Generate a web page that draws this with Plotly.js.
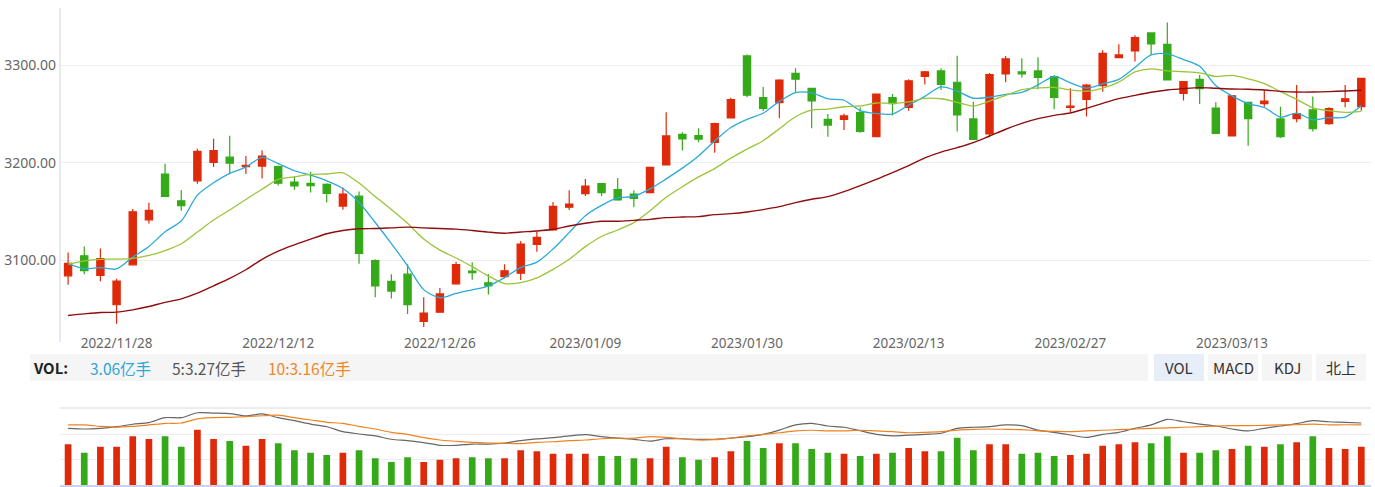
<!DOCTYPE html>
<html>
<head>
<meta charset="utf-8">
<script src="https://cdn.plot.ly/plotly-3.0.1.min.js"></script>
<style>html,body{margin:0;padding:0;background:#fff;}#chart{width:1375px;height:487px;}</style>
</head>
<body>
<div id="chart"></div>
<script>
const dates = ['2022/11/23','2022/11/24','2022/11/25','2022/11/28','2022/11/29','2022/11/30','2022/12/01','2022/12/02','2022/12/05','2022/12/06','2022/12/07','2022/12/08','2022/12/09','2022/12/12','2022/12/13','2022/12/14','2022/12/15','2022/12/16','2022/12/19','2022/12/20','2022/12/21','2022/12/22','2022/12/23','2022/12/26','2022/12/27','2022/12/28','2022/12/29','2022/12/30','2023/01/03','2023/01/04','2023/01/05','2023/01/06','2023/01/09','2023/01/10','2023/01/11','2023/01/12','2023/01/13','2023/01/16','2023/01/17','2023/01/18','2023/01/19','2023/01/20','2023/01/30','2023/01/31','2023/02/01','2023/02/02','2023/02/03','2023/02/06','2023/02/07','2023/02/08','2023/02/09','2023/02/10','2023/02/13','2023/02/14','2023/02/15','2023/02/16','2023/02/17','2023/02/20','2023/02/21','2023/02/22','2023/02/23','2023/02/24','2023/02/27','2023/02/28','2023/03/01','2023/03/02','2023/03/03','2023/03/06','2023/03/07','2023/03/08','2023/03/09','2023/03/10','2023/03/13','2023/03/14','2023/03/15','2023/03/16','2023/03/17','2023/03/20','2023/03/21','2023/03/22','2023/03/23'];

const tickDates = ['2022/11/28','2022/12/12','2022/12/26','2023/01/09','2023/01/30','2023/02/13','2023/02/27','2023/03/13'];
const priceTicks = [3100, 3200, 3300];

const open = [3084.1,3104.6,3084.4,3054.4,3095.4,3141.5,3188.4,3161,3181.5,3200.3,3205.8,3196.1,3196.6,3196.2,3180.2,3178.8,3177.8,3155.6,3165.8,3099.8,3078.3,3085.8,3037.3,3046.8,3075.9,3088.9,3077,3083.3,3086.7,3116.4,3131.1,3154.4,3168.4,3178.6,3172.5,3168,3169.4,3197.8,3229.2,3227.9,3221,3246,3309.6,3266.8,3261.7,3291.8,3276.4,3244.6,3244.6,3251.5,3226.8,3266.8,3256.9,3288.7,3294.2,3282.6,3245,3229.6,3291.1,3293.2,3294.2,3288.4,3256.9,3265.1,3279.1,3307.9,3314.7,3333.2,3321.5,3271.3,3285.6,3256.2,3227.5,3262,3260.7,3245,3245.3,3254.2,3240.2,3263.1,3257.6];
const high = [3108,3114.2,3112,3081,3152.5,3159,3199,3172,3214.4,3224.6,3227.7,3207,3213,3197.3,3186,3190.8,3179,3174.7,3170.6,3101.2,3085.8,3096,3062.2,3071.5,3098.5,3098.1,3086,3096,3119.8,3129.4,3159.8,3171.8,3183.4,3178.6,3184.4,3171.8,3195.5,3251.8,3231.3,3235.4,3241,3266.8,3311,3277.8,3285.6,3297,3276.4,3250,3250.4,3256.9,3270.6,3270.6,3285.6,3294.2,3297,3309.9,3262.7,3292,3309.6,3307.2,3308.2,3290,3276.4,3281.2,3315.4,3321.5,3330.8,3333.2,3343.8,3284,3290,3262,3269.2,3262,3274.7,3257.6,3279.8,3267.9,3257,3279.8,3287];
const low = [3075,3085.8,3078.6,3035,3095,3137.8,3164.8,3150.8,3178.5,3195.6,3189.4,3188.4,3184,3176.8,3172.3,3169.6,3159.3,3151.8,3096.4,3062.2,3060.9,3044.8,3031.5,3046.8,3074.9,3080,3065,3081.5,3079.8,3108.9,3130.4,3151.6,3166,3166,3161.2,3154.4,3168.7,3197.8,3212.5,3221,3210.4,3246,3267.2,3253.2,3245.6,3273,3235.4,3226.8,3233.7,3230.9,3226.2,3248.4,3253.5,3280.2,3274.7,3232,3223.4,3226.2,3282.6,3287.4,3275.4,3254.9,3251.8,3247.4,3273,3307.9,3303.8,3310.6,3285,3263.8,3260.3,3229.6,3227.5,3217.6,3257.6,3225.5,3241.5,3232,3239,3256.9,3253.5];
const close = [3096.91,3089.31,3101.69,3078.55,3149.75,3151.34,3165.47,3156.14,3211.81,3212.53,3199.62,3197.35,3206.95,3179.04,3176.33,3176.53,3168.65,3167.86,3107.12,3073.77,3068.41,3054.43,3045.87,3065.56,3095.57,3087.40,3073.70,3089.26,3116.51,3123.52,3155.22,3157.64,3176.08,3169.51,3161.84,3163.45,3195.31,3227.59,3224.41,3224.24,3240.28,3264.81,3269.32,3255.67,3284.92,3285.67,3263.41,3238.70,3248.09,3232.11,3270.38,3260.67,3284.16,3293.28,3280.49,3249.03,3224.02,3290.34,3306.52,3291.15,3287.48,3267.16,3258.03,3279.61,3312.35,3310.65,3328.39,3322.03,3285.10,3283.25,3276.09,3230.08,3268.70,3245.31,3263.31,3226.89,3250.55,3234.91,3255.65,3265.65,3286.65];

const ma5 = [3096.7,3091.5,3092.4,3091.1,3103.24,3114.13,3129.36,3140.25,3166.90,3179.46,3189.11,3195.49,3205.65,3199.10,3191.86,3187.24,3181.50,3173.68,3159.30,3138.79,3117.16,3094.32,3069.92,3061.61,3065.97,3069.77,3073.62,3082.30,3092.49,3098.08,3111.64,3128.43,3145.79,3156.39,3164.06,3165.70,3173.24,3183.54,3194.52,3207.00,3222.37,3236.27,3244.61,3250.86,3263.00,3272.08,3271.80,3265.67,3264.16,3253.60,3250.54,3249.99,3259.08,3268.12,3277.80,3273.53,3266.20,3267.43,3270.08,3272.21,3279.90,3288.53,3282.07,3276.69,3280.93,3285.56,3297.81,3310.61,3311.70,3305.88,3298.97,3279.31,3268.64,3260.69,3256.70,3246.86,3250.95,3244.19,3246.26,3246.73,3258.68];
const ma10 = [3096,3099.5,3101,3101.2,3102,3105,3110,3117,3129,3141.35,3151.62,3162.43,3172.95,3183.00,3185.66,3188.18,3188.50,3189.67,3179.20,3165.32,3152.20,3137.91,3121.80,3110.45,3102.38,3093.46,3083.97,3076.11,3077.05,3082.02,3090.70,3101.03,3114.05,3124.44,3131.07,3138.67,3150.83,3164.67,3175.46,3185.53,3194.04,3204.75,3214.08,3222.69,3235.00,3247.22,3254.03,3255.14,3257.51,3258.30,3261.31,3260.89,3262.38,3266.14,3265.70,3262.03,3258.09,3263.26,3269.10,3275.00,3276.71,3277.36,3274.75,3273.38,3276.57,3282.73,3293.17,3296.34,3294.20,3293.41,3292.27,3288.56,3289.63,3286.20,3281.29,3272.92,3265.13,3256.42,3253.47,3251.71,3252.77];
const ma30 = [3043.4,3045.1,3046.5,3046.8,3049.2,3052.6,3056.8,3060.5,3066.3,3073.8,3081.5,3090.3,3101,3109.5,3115.9,3121.7,3127.2,3130.6,3132.3,3132.6,3133.3,3134,3133.3,3132.6,3132,3130.6,3128.9,3127.8,3129,3130,3131.8,3135.2,3138,3140,3140,3141,3142,3143.8,3144.4,3144.8,3146.8,3147.9,3149.6,3152,3155,3159.1,3162.6,3165.3,3170.4,3176.6,3183,3189.9,3197.1,3205,3211,3215.6,3220.7,3227.5,3234.4,3240.5,3245.3,3248.7,3251.1,3255.9,3261,3265.8,3269.2,3272.3,3274.7,3276.1,3277.1,3276.4,3275.7,3275.4,3274.7,3273.3,3272.6,3272.6,3273,3273.7,3274.4];

// volume in 亿手
const volume = [3.26,2.58,3.06,3.06,3.90,3.68,3.90,3.06,4.42,3.68,3.52,3.14,3.68,3.34,2.78,2.58,2.40,2.58,2.78,2.14,1.84,2.22,1.84,2.02,2.14,2.22,2.14,2.14,2.78,2.70,2.50,2.50,2.50,2.32,2.32,2.14,2.14,3.06,2.22,2.02,2.22,2.70,3.52,2.96,3.34,3.34,2.88,2.58,2.50,2.32,2.50,2.58,2.96,2.70,2.70,3.78,2.78,3.26,3.26,2.50,2.58,2.32,2.40,2.50,3.14,3.26,3.42,3.34,3.90,2.58,2.58,2.78,2.88,3.14,3.06,3.26,3.42,3.90,2.96,2.88,3.06];
const volMa5 = [2.97,2.93,2.97,3.06,3.20,3.29,3.57,3.57,3.85,3.83,3.80,3.67,3.78,3.57,3.40,3.21,3.06,2.78,2.65,2.54,2.35,2.27,2.16,2.01,2.01,2.08,2.08,2.14,2.27,2.37,2.44,2.54,2.61,2.50,2.41,2.35,2.25,2.38,2.38,2.35,2.35,2.41,2.50,2.63,2.87,3.16,3.25,3.10,3.03,2.83,2.63,2.54,2.58,2.63,2.69,2.97,3.03,3.06,3.16,3.12,2.87,2.74,2.59,2.46,2.63,2.74,2.97,3.16,3.48,3.34,3.21,3.10,2.93,2.82,2.97,3.10,3.23,3.40,3.34,3.31,3.27];
const volMa10 = [3.16,3.16,3.08,3.03,3.08,3.16,3.25,3.27,3.50,3.57,3.59,3.63,3.68,3.71,3.57,3.44,3.31,3.25,3.08,2.93,2.74,2.63,2.44,2.31,2.24,2.18,2.14,2.12,2.10,2.18,2.21,2.27,2.31,2.38,2.41,2.41,2.50,2.46,2.37,2.31,2.33,2.42,2.54,2.63,2.72,2.82,2.86,2.83,2.83,2.86,2.82,2.78,2.72,2.74,2.78,2.87,2.91,2.93,2.91,2.89,2.83,2.80,2.78,2.82,2.86,2.89,2.93,2.97,2.99,3.03,3.06,3.10,3.12,3.12,3.14,3.16,3.17,3.21,3.16,3.17,3.16];

const RED = '#df2a0a', GREEN = '#35aa18';
const idx = dates.map((d, i) => i);
const tickvals = tickDates.map(d => dates.indexOf(d));
const last = dates.length - 1;

const W = 1375, H = 487;
const px = x => x / W;
const py = y => 1 - y / H;

const traces = [
  {
    type: 'candlestick', x: idx, open: open, high: high, low: low, close: close,
    xaxis: 'x', yaxis: 'y',
    increasing: {line: {color: RED, width: 1.2}, fillcolor: RED},
    decreasing: {line: {color: GREEN, width: 1.2}, fillcolor: GREEN},
    whiskerwidth: 0, hoverinfo: 'skip'
  },
  {type: 'scatter', mode: 'lines', x: idx, y: ma5, xaxis: 'x', yaxis: 'y',
   line: {color: '#2aaad8', width: 1.3, shape: 'spline', smoothing: 0.8}, hoverinfo: 'skip'},
  {type: 'scatter', mode: 'lines', x: idx, y: ma10, xaxis: 'x', yaxis: 'y',
   line: {color: '#9ac43a', width: 1.3, shape: 'spline', smoothing: 0.8}, hoverinfo: 'skip'},
  {type: 'scatter', mode: 'lines', x: idx, y: ma30, xaxis: 'x', yaxis: 'y',
   line: {color: '#8e0c0c', width: 1.4, shape: 'spline', smoothing: 0.8}, hoverinfo: 'skip'},
  {type: 'bar', x: idx, y: volume, xaxis: 'x2', yaxis: 'y2',
   marker: {color: idx.map(i => close[i] >= open[i] ? RED : GREEN), line: {width: 0}}, hoverinfo: 'skip'},
  {type: 'scatter', mode: 'lines', x: idx, y: volMa5, xaxis: 'x2', yaxis: 'y3',
   line: {color: '#666666', width: 1.2, shape: 'spline', smoothing: 0.8}, hoverinfo: 'skip'},
  {type: 'scatter', mode: 'lines', x: idx, y: volMa10, xaxis: 'x2', yaxis: 'y3',
   line: {color: '#f0821e', width: 1.2, shape: 'spline', smoothing: 0.8}, hoverinfo: 'skip'}
];

const CJK = '"Noto Sans CJK SC", "Noto Sans", sans-serif';
const annotations = [
  {text: '<b>VOL:</b>', x: px(31), y: py(367.5), xanchor: 'left', yanchor: 'middle', font: {family: CJK, size: 15, color: '#222'}},
  {text: volume[last].toFixed(2) + '亿手', x: px(88), y: py(367.5), xanchor: 'left', yanchor: 'middle', font: {family: CJK, size: 15.5, color: '#2ba6d9'}},
  {text: '5:' + volMa5[last].toFixed(2) + '亿手', x: px(170), y: py(367.5), xanchor: 'left', yanchor: 'middle', font: {family: CJK, size: 15.5, color: '#555555'}},
  {text: '10:' + volMa10[last].toFixed(2) + '亿手', x: px(266), y: py(367.5), xanchor: 'left', yanchor: 'middle', font: {family: CJK, size: 15.5, color: '#f0862a'}}
];
const buttons = ['VOL', 'MACD', 'KDJ', '北上'];
const shapes = [
  {type: 'line', xref: 'paper', yref: 'paper', x0: px(60), x1: px(60), y0: py(8), y1: py(342), line: {color: '#ccd5e8', width: 1}},
  {type: 'rect', xref: 'paper', yref: 'paper', x0: px(30), x1: px(1148), y0: py(354), y1: py(381), fillcolor: '#f5f5f5', line: {width: 0}, layer: 'below'},
  {type: 'line', xref: 'paper', yref: 'paper', x0: px(60), x1: px(1371), y0: py(408), y1: py(408), line: {color: '#e4e6ea', width: 1.5}}
];
buttons.forEach((b, k) => {
  const x0 = 1154 + k * 54;
  shapes.push({type: 'rect', xref: 'paper', yref: 'paper', x0: px(x0), x1: px(x0 + 50), y0: py(354), y1: py(381),
    fillcolor: k === 0 ? '#e7eef8' : '#f5f5f5', line: {width: 0}, layer: 'below'});
  annotations.push({text: b, x: px(x0 + 25), y: py(367.5), xanchor: 'center', yanchor: 'middle', showarrow: false,
    font: {family: CJK, size: 15, color: '#333'}});
});
annotations.forEach(a => { a.xref = 'paper'; a.yref = 'paper'; a.showarrow = false; });

const xdom = [px(60), px(1371)];
const xr = [-0.5, 80.6];
const layout = {
  width: W, height: H, margin: {l: 0, r: 0, t: 0, b: 0},
  paper_bgcolor: '#ffffff', plot_bgcolor: 'rgba(0,0,0,0)',
  showlegend: false, boxgap: 0.36, bargap: 0.585,
  font: {family: '"Noto Sans", sans-serif', color: '#666'},
  xaxis: {domain: xdom, range: xr, anchor: 'y', tickvals: tickvals, ticktext: tickvals.map(i => dates[i]),
    showgrid: false, zeroline: false, showline: false, ticks: '',
    tickfont: {family: '"Noto Sans", sans-serif', size: 13.5, color: '#666'},
    rangeslider: {visible: false}, fixedrange: true},
  yaxis: {domain: [py(333), py(8)], range: [3025.44, 3358.77], anchor: 'x',
    tickvals: priceTicks, ticktext: priceTicks.map(v => v.toFixed(2)),
    gridcolor: '#eceef4', gridwidth: 1, zeroline: false, showline: false, ticks: '', ticklabelstandoff: 3,
    tickfont: {family: '"Noto Sans", sans-serif', size: 14, color: '#666'}, fixedrange: true},
  xaxis2: {domain: xdom, range: xr, anchor: 'y2', showticklabels: false, showgrid: false,
    showline: true, linecolor: '#c9d3e6', linewidth: 1.5, zeroline: false, ticks: '', fixedrange: true},
  yaxis2: {domain: [py(485), py(408)], range: [0, 6.16], anchor: 'x2', tickvals: [2.08, 4.08],
    showticklabels: false, gridcolor: '#eceef4', zeroline: false, showline: false, ticks: '', fixedrange: true},
  yaxis3: {overlaying: 'y2', range: [-0.233, 4.117], visible: false, fixedrange: true},
  shapes: shapes, annotations: annotations
};

Plotly.newPlot('chart', traces, layout, {displayModeBar: false, staticPlot: true});
</script>
</body>
</html>
